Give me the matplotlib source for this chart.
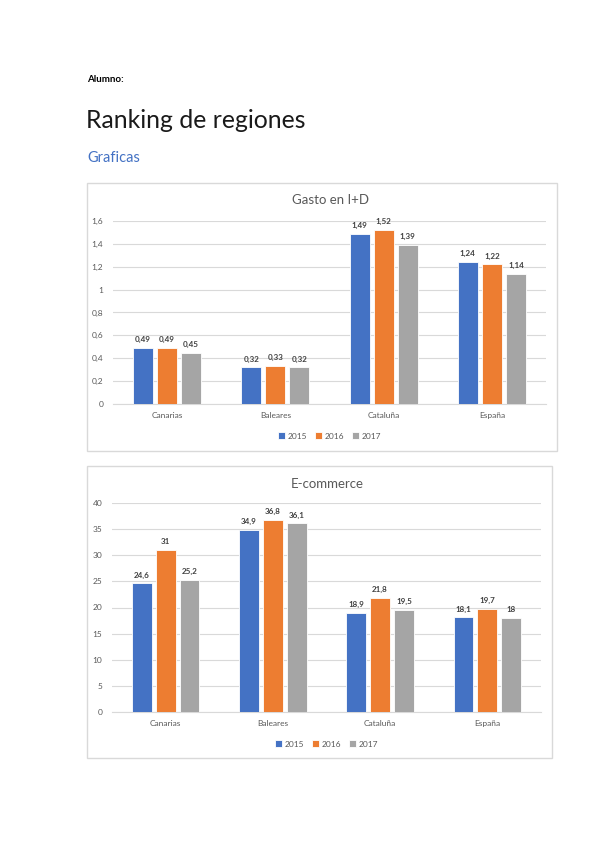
import matplotlib
matplotlib.use("Agg")
import matplotlib.pyplot as plt
from matplotlib.patches import Rectangle
import numpy as np

plt.rcParams['font.family'] = ['Lato', 'DejaVu Sans']

categories = ["Canarias", "Baleares", "Cataluña", "España"]
years = ["2015", "2016", "2017"]
colors = ["#4472C4", "#ED7D31", "#A5A5A5"]

gasto_2015 = [0.49, 0.32, 1.49, 1.24]
gasto_2016 = [0.49, 0.33, 1.52, 1.22]
gasto_2017 = [0.45, 0.32, 1.39, 1.14]

ecom_2015 = [24.6, 34.9, 18.9, 18.1]
ecom_2016 = [31, 36.8, 21.8, 19.7]
ecom_2017 = [25.2, 36.1, 19.5, 18]

gasto_ticks = [0, 0.2, 0.4, 0.6, 0.8, 1.0, 1.2, 1.4, 1.6]
ecom_ticks = [0, 5, 10, 15, 20, 25, 30, 35, 40]

W, H = 599, 848
fig = plt.figure(figsize=(W / 100, H / 100), dpi=100)
fig.patch.set_facecolor("white")


def fx(x):
    return x / W


def fy(y):
    return 1 - y / H


def fmt(v):
    s = ("%g" % v).replace(".", ",")
    return s


# Header text
fig.text(fx(87), fy(80), "Alumno:", fontsize=7, fontweight="bold",
         color="#000000", va="center", ha="left")
fig.text(fx(86), fy(120), "Ranking de regiones", fontsize=17.8,
         fontweight="normal", color="#1a1a1a", va="center", ha="left")
fig.text(fx(87), fy(158), "Graficas", fontsize=10.5, color="#4472C4",
         va="center", ha="left")


def draw_chart(frame, axbox, title, title_y, series, ticks, legend_y, ylim):
    fl, ft, fr, fb = frame
    fig.patches.append(Rectangle((fx(fl), fy(fb)), fx(fr - fl), (fb - ft) / H,
                                 transform=fig.transFigure, facecolor="white",
                                 edgecolor="#D9D9D9", linewidth=1.0, zorder=-5))
    l, t, r, b = axbox
    ax = fig.add_axes([fx(l), fy(b), fx(r - l), (b - t) / H])
    ax.set_facecolor("none")
    ax.set_zorder(2)
    x = np.arange(len(categories))
    width = 0.185
    pitch = 0.222
    handles = []
    for i, (vals, yr, c) in enumerate(zip(series, years, colors)):
        bars = ax.bar(x + (i - 1) * pitch, vals, width=width, color=c,
                      edgecolor="white", linewidth=0.6, label=yr, zorder=3)
        handles.append(bars)
        for xi, v in zip(x + (i - 1) * pitch, vals):
            ax.annotate(fmt(v), (xi, v), xytext=(0, 3.5),
                        textcoords="offset points", ha="center", va="bottom",
                        fontsize=5.8, color="#404040", fontweight="bold")
    ax.set_xlim(-0.5, len(categories) - 0.5)
    ax.set_ylim(*ylim)
    ax.set_yticks(ticks)
    ax.set_yticklabels([fmt(t) for t in ticks])
    ax.set_xticks(x)
    ax.set_xticklabels(categories)
    ax.tick_params(axis="both", length=0, labelsize=6, colors="#595959")
    ax.tick_params(axis="y", pad=7)
    ax.tick_params(axis="x", pad=6)
    ax.grid(axis="y", color="#D9D9D9", linewidth=0.8, zorder=0)
    for s in ["top", "right", "left"]:
        ax.spines[s].set_visible(False)
    ax.spines["bottom"].set_color("#D9D9D9")
    ax.spines["bottom"].set_linewidth(0.8)
    fig.text(fx((l + r) / 2 + 1), fy(title_y), title, fontsize=9.5,
             color="#595959", ha="center", va="center")
    fig.legend(handles=handles, labels=years, loc="center",
               bbox_to_anchor=(fx((l + r) / 2), fy(legend_y)), ncol=3,
               frameon=False, fontsize=6, handlelength=0.9, handleheight=0.8,
               handletextpad=0.3, columnspacing=0.9, labelcolor="#595959")
    return ax


draw_chart((87, 183, 557, 451), (113, 221, 546, 404), "Gasto en I+D", 200,
           [gasto_2015, gasto_2016, gasto_2017], gasto_ticks, 436, (0, 1.6))
draw_chart((87, 466, 552, 758), (112, 503, 541, 712), "E-commerce", 484,
           [ecom_2015, ecom_2016, ecom_2017], ecom_ticks, 744, (0, 40))

fig.savefig("out.png", dpi=100, facecolor="white")
